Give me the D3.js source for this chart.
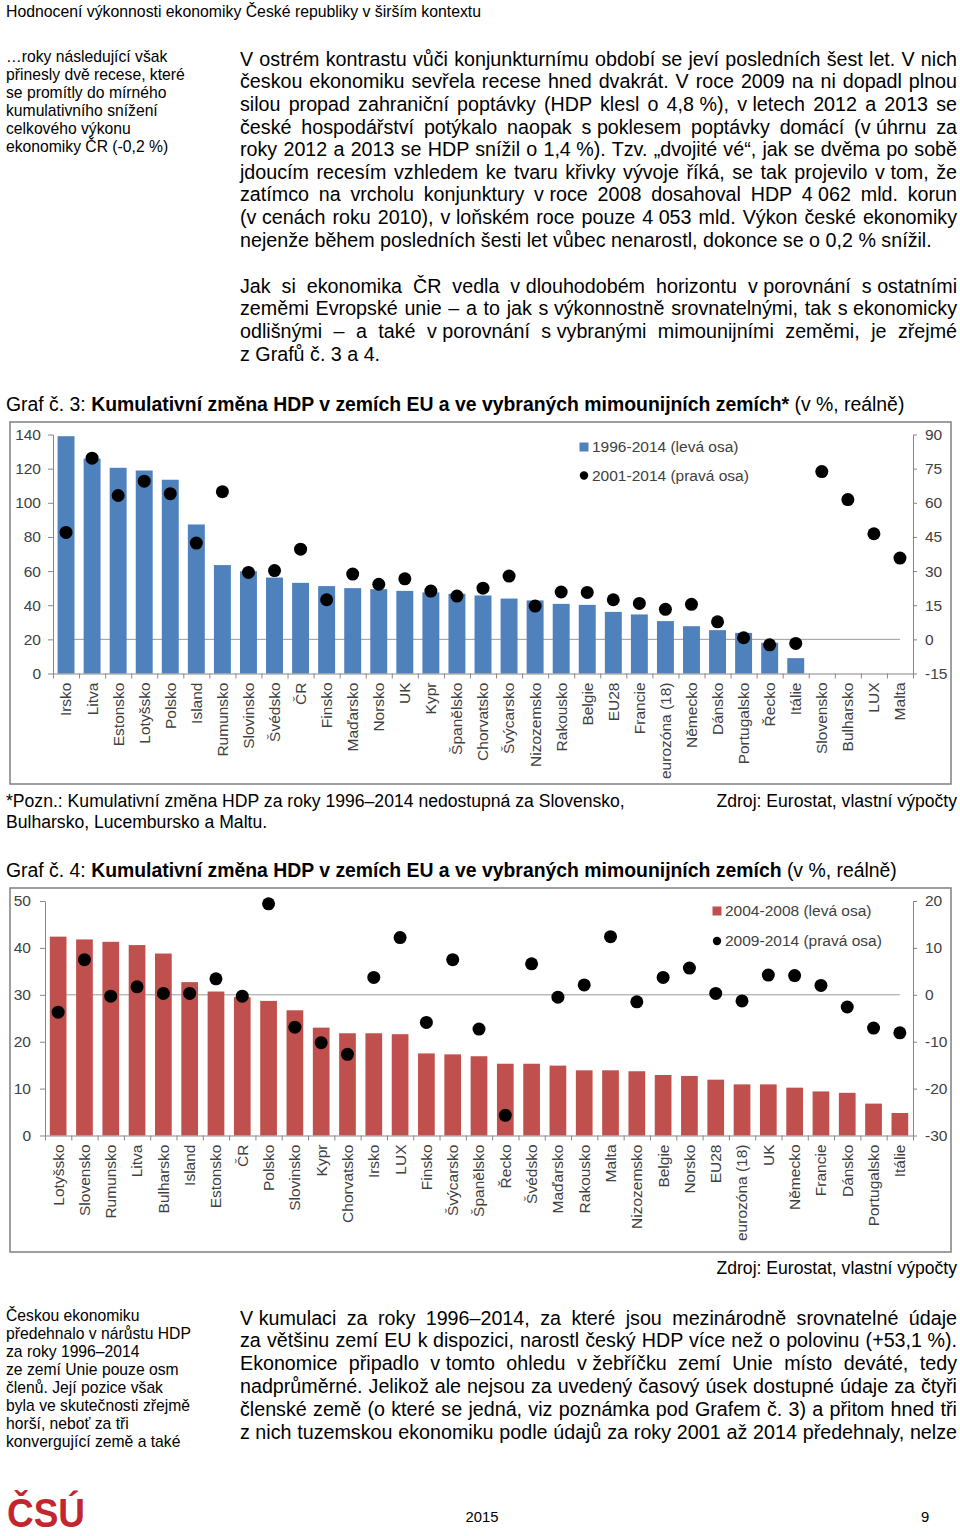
<!DOCTYPE html>
<html><head><meta charset="utf-8">
<script src="https://cdn.jsdelivr.net/npm/d3@7"></script>
<style>
html,body{margin:0;padding:0;background:#fff;}
body{width:960px;height:1536px;position:relative;overflow:hidden;font-family:"Liberation Sans",Arial,Helvetica,sans-serif;color:#000;}
.t{position:absolute;white-space:nowrap;}
svg{position:absolute;left:0;top:0;}
</style></head><body>
<script>
// ---------- DATA ----------
const c3Categories = ["Irsko","Litva","Estonsko","Lotyšsko","Polsko","Island","Rumunsko","Slovinsko","Švédsko","ČR","Finsko","Maďarsko","Norsko","UK","Kypr","Španělsko","Chorvatsko","Švýcarsko","Nizozemsko","Rakousko","Belgie","EU28","Francie","eurozóna (18)","Německo","Dánsko","Portugalsko","Řecko","Itálie","Slovensko","Bulharsko","LUX","Malta"];
const c3Series1996 = [139.0,125.9,120.5,118.9,113.5,87.3,63.5,59.9,56.2,53.1,51.2,50.0,49.4,48.4,47.5,46.7,45.7,43.9,42.8,40.8,40.2,36.1,34.6,30.7,27.7,25.4,23.8,18.0,9.0,null,null,null,null];
const c3Series2001 = [47.0,79.6,63.2,69.5,64.0,42.3,64.9,29.4,30.2,39.6,17.4,28.7,24.2,26.6,21.2,19.0,22.5,27.8,14.6,20.8,20.6,17.4,15.8,13.2,15.4,7.7,0.7,-2.4,-1.8,73.7,61.4,46.4,35.7];
const c3LeftTicks = [0,20,40,60,80,100,120,140];
const c3RightTicks = [-15,0,15,30,45,60,75,90];
const c3Legend = ["1996-2014 (levá osa)","2001-2014 (pravá osa)"];

const c4Categories = ["Lotyšsko","Slovensko","Rumunsko","Litva","Bulharsko","Island","Estonsko","ČR","Polsko","Slovinsko","Kypr","Chorvatsko","Irsko","LUX","Finsko","Švýcarsko","Španělsko","Řecko","Švédsko","Maďarsko","Rakousko","Malta","Nizozemsko","Belgie","Norsko","EU28","eurozóna (18)","UK","Německo","Francie","Dánsko","Portugalsko","Itálie"];
const c4Series2004 = [42.4,41.8,41.3,40.6,38.8,32.7,30.7,29.5,28.7,26.7,23.0,21.8,21.8,21.6,17.5,17.3,16.9,15.3,15.3,14.9,13.9,13.9,13.7,12.9,12.7,11.9,10.9,10.9,10.2,9.4,9.1,6.8,4.8];
const c4Series2009 = [-3.7,7.5,-0.3,1.7,0.3,0.3,3.4,-0.3,19.4,-6.9,-10.2,-12.7,3.7,12.2,-5.9,7.5,-7.3,-25.7,6.6,-0.5,2.1,12.4,-1.5,3.7,5.7,0.3,-1.3,4.2,4.1,2.0,-2.6,-7.1,-8.1];
const c4LeftTicks = [0,10,20,30,40,50];
const c4RightTicks = [-30,-20,-10,0,10,20];
const c4Legend = ["2004-2008 (levá osa)","2009-2014 (pravá osa)"];

// ---------- TEXT ----------
const headerText = "Hodnocení výkonnosti ekonomiky České republiky v širším kontextu";
const sideNote1 = ["…roky následující však","přinesly dvě recese, které","se promítly do mírného","kumulativního snížení","celkového výkonu","ekonomiky ČR (-0,2 %)"];
const sideNote2 = ["Českou ekonomiku","předehnalo v nárůstu HDP","za roky 1996–2014","ze zemí Unie pouze osm","členů. Její pozice však","byla ve skutečnosti zřejmě","horší, neboť za tři","konvergující země a také"];
const para1 = [
 "V ostrém kontrastu vůči konjunkturnímu období se jeví posledních šest let. V nich",
 "českou ekonomiku sevřela recese hned dvakrát. V roce 2009 na ni dopadl plnou",
 "silou propad zahraniční poptávky (HDP klesl o 4,8~%), v~letech 2012 a 2013 se",
 "české hospodářství potýkalo naopak s~poklesem poptávky domácí (v~úhrnu za",
 "roky 2012 a 2013 se HDP snížil o 1,4~%). Tzv. „dvojité vé“, jak se dvěma po sobě",
 "jdoucím recesím vzhledem ke tvaru křivky vývoje říká, se tak projevilo v~tom, že",
 "zatímco na vrcholu konjunktury v~roce 2008 dosahoval HDP 4~062 mld. korun",
 "(v~cenách roku 2010), v~loňském roce pouze 4~053 mld. Výkon české ekonomiky",
 "nejenže během posledních šesti let vůbec nenarostl, dokonce se o 0,2~% snížil."];
const para2 = [
 "Jak si ekonomika ČR vedla v~dlouhodobém horizontu v~porovnání s~ostatními",
 "zeměmi Evropské unie – a to jak s~výkonnostně srovnatelnými, tak s~ekonomicky",
 "odlišnými – a také v~porovnání s~vybranými mimounijními zeměmi, je zřejmé",
 "z~Grafů č. 3 a 4."];
const para3 = [
 "V~kumulaci za roky 1996–2014, za které jsou mezinárodně srovnatelné údaje",
 "za většinu zemí EU k~dispozici, narostl český HDP více než o polovinu (+53,1~%).",
 "Ekonomice připadlo v~tomto ohledu v~žebříčku zemí Unie místo deváté, tedy",
 "nadprůměrné. Jelikož ale nejsou za uvedený časový úsek dostupné údaje za čtyři",
 "členské země (o které se jedná, viz poznámka pod Grafem č. 3) a přitom hned tři",
 "z~nich tuzemskou ekonomiku podle údajů za roky 2001 až 2014 předehnaly, nelze"];

const body = d3.select("body");
const FONT = '"Liberation Sans",Arial,Helvetica,sans-serif';

function esc(s){return s.replace(/&/g,"&amp;").replace(/</g,"&lt;");}

function textBlock(lines, left, top, lh, fs, opts={}) {
  lines.forEach((ln,i)=>{
    const d = body.append("div").attr("class","t")
      .style("left",left+"px").style("top",(top+i*lh)+"px")
      .style("font-size",fs+"px").style("line-height",lh+"px");
    const html = ln.split("~").map(esc).join('<span style="word-spacing:0">\u00a0</span>');
    const sp = d.append("span").html(html);
    const justify = opts.width && (opts.justifyLast || i < lines.length-1);
    if (justify) {
      const w = sp.node().getBoundingClientRect().width;
      const n = (ln.match(/ /g)||[]).length;
      if (n>0) sp.style("word-spacing", ((opts.width - w)/n)+"px");
    }
  });
}

// header
body.append("div").attr("class","t").style("left","6px").style("top","3px")
  .style("font-size","15.8px").style("line-height","18px").text(headerText);

textBlock(sideNote1, 6, 48, 18, 15.7);
textBlock(para1, 240, 47.7, 22.625, 19.7, {width:717});
textBlock(para2, 240, 274.7, 22.67, 19.7, {width:717});
textBlock(sideNote2, 6, 1307, 18, 15.7);
textBlock(para3, 240, 1306.6, 22.8, 19.7, {width:717, justifyLast:true});

function title(num, bold, rest, top) {
  const d = body.append("div").attr("class","t").style("left","6px").style("top",top+"px")
    .style("font-size","19.4px").style("line-height","22px");
  d.append("span").text("Graf č. "+num+": ");
  d.append("b").text(bold);
  d.append("span").text(rest);
}
title(3, "Kumulativní změna HDP v zemích EU a ve vybraných mimounijních zemích*", " (v %, reálně)", 393);
title(4, "Kumulativní změna HDP v zemích EU a ve vybraných mimounijních zemích", " (v %, reálně)", 859);

body.append("div").attr("class","t").style("left","6px").style("top","790.5px")
  .style("font-size","17.6px").style("line-height","21px")
  .html("*Pozn.: Kumulativní změna HDP za roky 1996–2014 nedostupná za Slovensko,<br>Bulharsko, Lucembursko a Maltu.");
[790.5, 1257.5].forEach(t=>{
  body.append("div").attr("class","t").style("right","3px").style("top",t+"px")
    .style("font-size","17.6px").style("line-height","21px").text("Zdroj: Eurostat, vlastní výpočty");
});

// ---------- SVG charts ----------
const svg = body.append("svg").attr("width",960).attr("height",1536);

function drawChart(cfg) {
  const g = svg.append("g").style("font-family",FONT);
  const cats = cfg.cats;
  g.append("rect").attr("x",cfg.frame[0]).attr("y",cfg.frame[1]).attr("width",cfg.frame[2]).attr("height",cfg.frame[3])
    .attr("fill","none").attr("stroke","#878787").attr("stroke-width",1.6);
  const x = d3.scaleBand().domain(cats).range([cfg.x0,cfg.x1]).paddingInner(cfg.pad).paddingOuter(cfg.pad/2);
  const bw = x.bandwidth();
  const yL = d3.scaleLinear().domain(cfg.leftDomain).range([cfg.yBottom,cfg.yTop]);
  const yR = d3.scaleLinear().domain(cfg.rightDomain).range([cfg.yBottom,cfg.yTop]);
  // right-axis zero line
  g.append("line").attr("x1",x(cats[0])+bw/2).attr("x2",x(cats[cats.length-1])+bw/2)
    .attr("y1",yR(0)).attr("y2",yR(0)).attr("stroke","#9a9a9a").attr("stroke-width",1);
  // bars
  const barData = cats.map((c,i)=>({c,v:cfg.bars[i]})).filter(d=>d.v!=null);
  g.selectAll("rect.bar").data(barData).join("rect").attr("class","bar")
    .attr("x",d=>x(d.c)).attr("width",bw)
    .attr("y",d=>yL(Math.max(0,d.v))).attr("height",d=>Math.abs(yL(d.v)-yL(0)))
    .attr("fill",cfg.color);
  // bottom axis with boundary ticks
  const xb = d3.scaleLinear().domain([0,cats.length]).range([cfg.x0,cfg.x1]);
  const ax = g.append("g").attr("transform",`translate(0,${yL(0)})`)
    .call(d3.axisBottom(xb).tickValues(d3.range(cats.length+1)).tickSize(5).tickSizeOuter(0).tickFormat(""));
  ax.selectAll("path,line").attr("stroke","#878787");
  // category labels
  g.selectAll("text.cat").data(cats).join("text").attr("class","cat")
    .attr("transform",c=>`translate(${x(c)+bw/2},${yL(0)+9}) rotate(-90)`)
    .attr("text-anchor","end").attr("dy","0.35em")
    .attr("font-size",cfg.fs).attr("fill","#404040").text(c=>c);
  // left axis
  const al = g.append("g").attr("transform",`translate(${cfg.x0},0)`)
    .call(d3.axisLeft(yL).tickValues(cfg.leftTicks).tickSize(5).tickPadding(cfg.lpad).tickSizeOuter(0).tickFormat(d=>String(d)));
  // right axis
  const ar = g.append("g").attr("transform",`translate(${cfg.x1},0)`)
    .call(d3.axisRight(yR).tickValues(cfg.rightTicks).tickSize(4).tickPadding(8).tickSizeOuter(0).tickFormat(d=>String(d)));
  [al,ar].forEach(a=>{
    a.attr("font-family",FONT).attr("font-size",cfg.fs);
    a.selectAll("path,line").attr("stroke","#878787");
    a.selectAll("text").attr("fill","#404040");
  });
  // dots
  g.selectAll("circle.dot").data(cats.map((c,i)=>({c,v:cfg.dots[i]}))).join("circle").attr("class","dot")
    .attr("cx",d=>x(d.c)+bw/2).attr("cy",d=>yR(d.v)).attr("r",6.5).attr("fill","#000");
  // legend
  const L = cfg.legend;
  g.append("rect").attr("x",L.x-4.5).attr("y",L.y1-4.5).attr("width",9).attr("height",9).attr("fill",cfg.color);
  g.append("circle").attr("cx",L.x).attr("cy",L.y2).attr("r",4.2).attr("fill","#000");
  [[L.y1,cfg.legendText[0]],[L.y2,cfg.legendText[1]]].forEach(([yy,t])=>{
    g.append("text").attr("x",L.tx).attr("y",yy).attr("dy","0.35em").attr("font-size",cfg.fs)
      .attr("fill","#404040").text(t);
  });
}

drawChart({cats:c3Categories, bars:c3Series1996, dots:c3Series2001, color:"#4F81BD",
  frame:[10,422,941,362], x0:53, x1:913, pad:0.35, yBottom:673.5, yTop:434.5,
  leftDomain:[0,140], rightDomain:[-15,90], leftTicks:c3LeftTicks, rightTicks:c3RightTicks,
  fs:15.5, lpad:7, legend:{x:584,y1:447,y2:475.5,tx:592}, legendText:c3Legend});

drawChart({cats:c4Categories, bars:c4Series2004, dots:c4Series2009, color:"#C0504D",
  frame:[10,888,941,364], x0:45, x1:913, pad:0.365, yBottom:1135.5, yTop:901,
  leftDomain:[0,50], rightDomain:[-30,20], leftTicks:c4LeftTicks, rightTicks:c4RightTicks,
  fs:15.5, lpad:9, legend:{x:717,y1:911,y2:941,tx:725}, legendText:c4Legend});

// footer
svg.append("text").attr("x",7).attr("y",1527).attr("font-family",FONT).attr("font-weight","bold")
  .attr("font-size",41).attr("fill","#C3262E").attr("textLength",78).attr("lengthAdjust","spacingAndGlyphs").text("ČSÚ");
svg.append("text").attr("x",482).attr("y",1517).attr("dy","0.35em").attr("text-anchor","middle")
  .attr("font-family",FONT).attr("font-size",14.8).text("2015");
svg.append("text").attr("x",925).attr("y",1517).attr("dy","0.35em").attr("text-anchor","middle")
  .attr("font-family",FONT).attr("font-size",14.8).text("9");
</script>
</body></html>
